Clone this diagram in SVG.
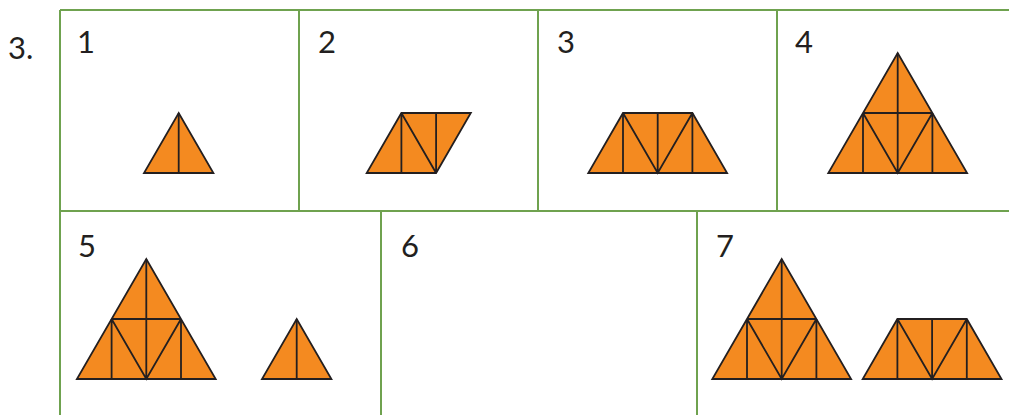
<svg xmlns="http://www.w3.org/2000/svg" width="1009" height="415" viewBox="0 0 1009 415">
<style>
.grid{stroke:#6fa24f;stroke-width:2;fill:none}
.sh{fill:#f48a20;stroke:#231f20;stroke-width:1.8;stroke-linejoin:miter}
.ln{stroke:#231f20;stroke-width:1.8;fill:none}
.lbl{font-family:Lato,"Open Sans","Liberation Sans",sans-serif;font-size:31px;fill:#231f20;font-weight:400}
</style>
<rect width="1009" height="415" fill="#fff"/>
<text class="lbl" x="8" y="59">3.</text>
<g id="grid" class="grid">
<path d="M60 10H1009M60 211H1009M60 10V415M299 10V211M538 10V211M777 10V211M381 211V415M697 211V415"/>
</g>
<g id="cell1">
<text class="lbl" x="77" y="53">1</text>
<polygon class="sh" points="144,173 213.4,173 178.7,113"/>
<path class="ln" d="M178.7 113V173"/>
</g>
<g id="cell2">
<text class="lbl" x="318" y="53">2</text>
<polygon class="sh" points="366.7,173 436.1,173 470.8,113 401.4,113"/>
<path class="ln" d="M401.4 113V173M401.4 113L436.1 173M436.1 113V173"/>
</g>
<g id="cell3">
<text class="lbl" x="557" y="53">3</text>
<polygon class="sh" points="588.3,173 727.1,173 692.4,113 623,113"/>
<path class="ln" d="M623 113V173M657.7 113V173M692.4 113V173M623 113L657.7 173L692.4 113"/>
</g>
<g id="cell4">
<text class="lbl" x="795" y="53">4</text>
<polygon class="sh" points="828.3,173 967.1,173 897.7,53"/>
<path class="ln" d="M897.7 53V173M863 113H932.4M863 113V173M932.4 113V173M863 113L897.7 173L932.4 113"/>
</g>
<g id="cell5">
<text class="lbl" x="78" y="257">5</text>
<polygon class="sh" points="76.9,379 215.7,379 146.3,259"/>
<path class="ln" d="M146.3 259V379M111.6 319H181M111.6 319V379M181 319V379M111.6 319L146.3 379L181 319"/>
<polygon class="sh" points="262,379 331.4,379 296.7,319"/>
<path class="ln" d="M296.7 319V379"/>
</g>
<g id="cell6">
<text class="lbl" x="401" y="257">6</text>
</g>
<g id="cell7">
<text class="lbl" x="716" y="257">7</text>
<polygon class="sh" points="712.3,379 851.1,379 781.7,259"/>
<path class="ln" d="M781.7 259V379M747 319H816.4M747 319V379M816.4 319V379M747 319L781.7 379L816.4 319"/>
<polygon class="sh" points="862.7,379 1001.5,379 966.8,319 897.4,319"/>
<path class="ln" d="M897.4 319V379M932.1 319V379M966.8 319V379M897.4 319L932.1 379L966.8 319"/>
</g>
<g id="connectors"></g>
</svg>
